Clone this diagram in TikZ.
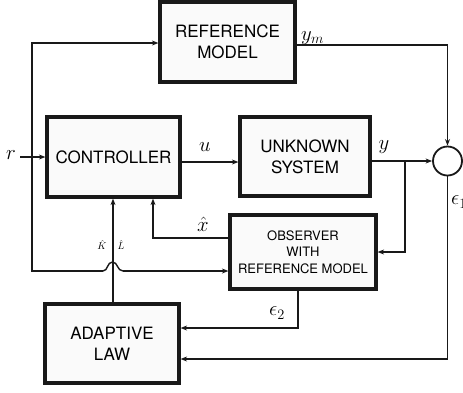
\documentclass[tikz,border=0pt]{standalone}
\usepackage{fontspec}
\setsansfont{TeX Gyre Heros}
\usetikzlibrary{arrows.meta}
\tikzset{
  blockbox/.style={draw=black!90, line width=3.2pt, fill=black!2, inner sep=0pt,
    align=center, font=\sffamily\fontsize{17}{21}\selectfont},
  smallblock/.style={blockbox, font=\sffamily\fontsize{13}{16.5}\selectfont},
  sig/.style={draw=black!90, line width=1.4pt, -{Stealth[length=6.5pt,width=5pt]}},
  wire/.style={draw=black!90, line width=1.4pt},
  lbl/.style={font=\fontsize{21}{23}\selectfont, inner sep=0pt},
  tinylbl/.style={font=\fontsize{10}{12}\selectfont, inner sep=0pt}
}
\begin{document}
\begin{tikzpicture}[x=1pt,y=-1pt]
\useasboundingbox (0,0) rectangle (463,392);

% blocks
\node[blockbox, minimum width=135pt, minimum height=80pt] (ref) at (227.5,42) {REFERENCE\\MODEL};
\node[blockbox, minimum width=133pt, minimum height=80pt] (ctrl) at (113.5,157) {CONTROLLER};
\node[blockbox, minimum width=130pt, minimum height=79pt] (unk) at (305,156.5) {UNKNOWN\\SYSTEM};
\node[smallblock, minimum width=146pt, minimum height=74pt] (obs) at (303,252) {OBSERVER\\WITH\\REFERENCE MODEL};
\node[blockbox, minimum width=134pt, minimum height=79pt] (adapt) at (112,343.5) {ADAPTIVE\\LAW};
\node[draw=black!90, line width=1.8pt, circle, minimum size=29pt, inner sep=0pt, fill=white] (sum) at (447.5,161) {};

% reference input and its branches
\coordinate (rin) at (20,157);
\coordinate (rb) at (32,157);
\coordinate (hopl) at (103,271);
\coordinate (hopr) at (123,271);
\draw[sig] (rin) -- (ctrl.west |- rin);
\draw[sig] (rb) -- (32,43) -- (ref.west |- 0,43);
\draw[wire] (rb) -- (32,271) -- (hopl);
% small bridge where the line crosses the gain signal
\draw[wire] (hopl) .. controls (108,271) and (107,262) .. (112.5,262)
  .. controls (118,262) and (117,271) .. (hopr);
\draw[sig] (hopr) -- (obs.west |- hopr);
\node[lbl] (rlbl) at (11,155) {$r$};

% forward path
\draw[sig] (ctrl.east |- 0,162) -- (unk.west |- 0,162);
\node[lbl] (ulbl) at (205,147) {$u$};
\coordinate (yj) at (405,161);
\draw[sig] (unk.east |- yj) -- (sum.west);
\node[lbl] (ylbl) at (384,147) {$y$};
\draw[sig] (yj) -- (yj |- obs.east) -- (obs.east);

% reference model output
\draw[sig] (ref.east |- 0,45) -- (sum.center |- 0,45) -- (sum.north);
\node[lbl, anchor=west] (ymlbl) at (301,38) {$y_m$};

% observer state estimate
\draw[sig] (obs.west |- 0,238) -- (153,238) -- (153,0 |- ctrl.south);
\node[lbl] (xlbl) at (203,224) {$\hat{x}$};

% adaptive gains
\draw[sig] (adapt.north -| 113,0) -- (ctrl.south -| 113,0);
\node[tinylbl] (klbl) at (102,245) {$\hat{K}$};
\node[tinylbl] (llbl) at (121,245) {$\hat{L}$};

% error signals
\draw[sig] (obs.south -| 298,0) -- (298,328) -- (adapt.east |- 0,328);
\node[lbl] (e2lbl) at (277,313) {$\epsilon_2$};
\draw[sig] (sum.south) -- (447.5,359) -- (adapt.east |- 0,359);
\node[lbl, anchor=west] (e1lbl) at (451,202) {$\epsilon_1$};
\end{tikzpicture}
\end{document}
